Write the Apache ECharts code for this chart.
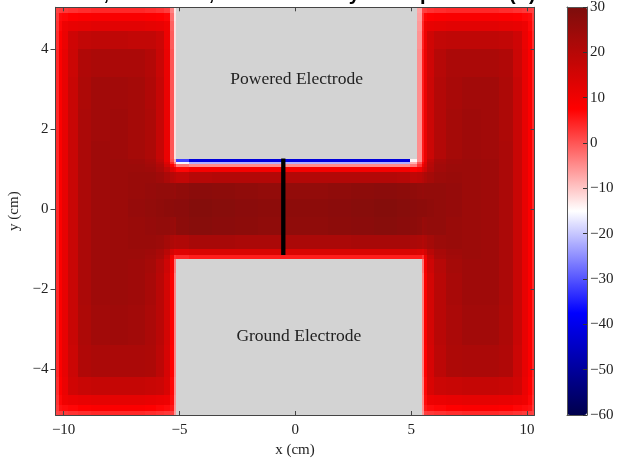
<!DOCTYPE html>
<html>
<head>
<meta charset="utf-8">
<script src="https://cdn.jsdelivr.net/npm/echarts@6/dist/echarts.min.js"></script>
<style>html,body{margin:0;padding:0;background:#fff}#c{width:618px;height:459px}</style>
</head>
<body>
<div id="c"></div>
<script>
const N = null;
// cell edges (cm)
const xEdges = [-10.35,-10.22,-10.05,-9.8,-9.4,-8.8,-8.0,-7.2,-6.5,-6.0,-5.65,-5.4,-5.25,-5.15,
  -4.6,-3.6,-2.6,-1.6,-0.6,0.4,1.4,2.4,3.4,4.4,4.95,5.26,5.45,
  5.55,5.7,6.0,6.5,7.2,8.0,8.8,9.4,9.8,10.05,10.2,10.32];
const yEdges = [-5.14,-5.04,-4.9,-4.65,-4.2,-3.4,-2.4,-1.6,-1.24,-1.14,-0.98,-0.65,-0.2,0.25,0.66,0.94,1.06,1.14,1.19,1.26,
  1.7,2.5,3.3,4.0,4.45,4.72,4.92,5.05];
// potential (V), rows from bottom to top, 38 columns each
const potential = [
 [1.5,2,2.5,3,3.5,4,4,4,3.5,3,2.5,2,-6, N,N,N,N,N,N,N,N,N,N,N,N,N, -6,2,2.5,3,3.5,4,4,3.5,3,2.5,2,1.5],
 [2.5,6,6.5,7,7.5,8,8,8,7.5,7,6.5,5.5,-5.5, N,N,N,N,N,N,N,N,N,N,N,N,N, -5.5,5.5,6.5,7,7.5,8,8,7.5,7,6.5,6,2.5],
 [3,7,10,11,11.5,12,12,12,11.5,11,10.5,6.5,-5, N,N,N,N,N,N,N,N,N,N,N,N,N, -5,6.5,10.5,11,11.5,12,12,11.5,11,10,7,3],
 [3.5,7.5,11,15.5,17,17.5,17.5,17.5,17,16.5,14,7,-4.5, N,N,N,N,N,N,N,N,N,N,N,N,N, -4.5,7,14,16.5,17,17.5,17.5,17,15.5,11,7.5,3.5],
 [4,8,11.5,16.5,21,22,22,22,21.5,19,14.5,7.5,-4, N,N,N,N,N,N,N,N,N,N,N,N,N, -4,7.5,14.5,19,21.5,22,22,21,16.5,11.5,8,4],
 [4,8,11.5,17,21.5,23.5,24,23.5,22,19.5,15,8,-4, N,N,N,N,N,N,N,N,N,N,N,N,N, -4,8,15,19.5,22,23.5,23.5,21.5,17,11.5,8,4],
 [4,8,11.5,17,22,24,24.5,24,22.5,19.5,15,8,-4, N,N,N,N,N,N,N,N,N,N,N,N,N, -4,8,15,19.5,22.5,24,24,22,17,11.5,8,4],
 [4,8,11.5,17,22,24,24.5,24,23,20,16,9,-3, N,N,N,N,N,N,N,N,N,N,N,N,N, -3,9,16,20,23,24,24,22,17,11.5,8,4],
 [4,8,11.5,17,22,24,24.5,24.5,23.5,22,17.5,10,3, 4,5,5,5,5,5,5,5,5,5,5,5,5, 3,10,17.5,22,23.5,24.5,24,22,17,11.5,8,4],
 [4,8,11.5,17,22,24,24.5,24.5,24,22.5,19.5,15,12.5, 13,14,14,14,14,14,14,14,14,14,14,14,13.5, 12.5,15,19.5,22.5,24,24.5,24,22,17,11.5,8,4],
 [4,8,11.5,17,22,24,24.5,25,25,24.5,23,21.5,20.5, 21,22.5,22.5,22,22,22,22,22,22.5,22.5,22.5,22,21.5, 20.5,21.5,23,24.5,25,24.5,24,22,17,11.5,8,4],
 [4,8,11.5,17,22,24,24.5,25,25.5,26,26,25.5,25, 27,28,27.5,27,26.5,26.5,26.5,27,27.5,28,27.5,27,26.5, 25,25.5,26,26,25,24.5,24,22,17,11.5,8,4],
 [4,8,11.5,17,22,24,24.5,25.5,26,26.5,27,27,27.5, 27.5,28.5,28,27.5,27,27,27,27.5,28,28.5,28,27.5,27, 27,27,26.5,26,25.5,24.5,24,22,17,11.5,8,4],
 [4,8,11.5,17,22,24,24.5,25,25.5,26,26,26,25.5, 26.5,27.5,27,26.5,26,26,26,26.5,27,27.5,27,26.5,26, 25.5,26,26,26,25.5,24.5,24,22,17,11.5,8,4],
 [4,8,11.5,17,22,24,24.5,25,25,24,22,20,19, 18,20,20.5,20.5,20.5,20.5,20.5,20.5,20.5,20.5,20,18.5,19, 20,21.5,23,24.5,25,24.5,24,22,17,11.5,8,4],
 [4,8,11.5,17,22,24,24.5,24.5,24,22,18,13,11, 7,9,9,9,9,9,9,9,9,9,9,7.5,9, 13.5,16,20.5,23.5,24.5,24.5,24,22,17,11.5,8,4],
 [4,8,11.5,17,22,24,24.5,24.5,23.5,21,15,8,4, -3,-5,-5,-5,-5,-5,-5,-5,-5,-5,-5,-3,3, 10,14,20,23.5,24.5,24.5,24,22,17,11.5,8,4],
 [4,8,11.5,17,22,24,24.5,24,23,20,13,4,-4, -16,-22,-22,-22,-22,-22,-22,-22,-22,-22,-22,-8,0, 7,13,19.5,23,24,24.5,24,22,17,11.5,8,4],
 [4,8,11.5,17,22,24,24.5,24,22.5,18.5,11,1,-8, -32,-42,-42,-42,-42,-42,-42,-42,-42,-42,-42,-14,-5, 5,11,18.5,22.5,24,24.5,24,22,17,11.5,8,4],
 [4,8,11.5,17,22,24,24,23,21.5,17.5,11,0,-12, N,N,N,N,N,N,N,N,N,N,N,N, -5,5,11,16.5,20.5,23,24,23.5,22,17,11.5,8,4],
 [4,8,11.5,17,22,23.5,24,23,21.5,17.5,11,0,-12, N,N,N,N,N,N,N,N,N,N,N,N, -5,5,11,16.5,20.5,23,24,23.5,21.5,17,11.5,8,4],
 [4,8,11.5,17,21.5,23.5,23.5,23,21,17.5,11,0,-12, N,N,N,N,N,N,N,N,N,N,N,N, -5,5,11,16.5,20.5,22.5,23.5,23.5,21.5,17,11.5,8,4],
 [4,8,11.5,16.5,21,22,22,22,20.5,17,11,0,-12, N,N,N,N,N,N,N,N,N,N,N,N, -5,5,11,16,20,22,22,22,21,16.5,11.5,8,4],
 [3.5,7.5,11,16,18,18.5,18.5,18,18,16.5,10.5,-0.5,-12, N,N,N,N,N,N,N,N,N,N,N,N, -5.5,4.5,10.5,15.5,18,18.5,18.5,18.5,18,16,11,7.5,3.5],
 [3,7,10.5,11.5,12,12.5,12.5,12.5,12,11.5,10,-1,-12, N,N,N,N,N,N,N,N,N,N,N,N, -6,4,10,11.5,12,12.5,12.5,12.5,12,11.5,10.5,7,3],
 [2.5,6.5,7,7.5,8,8.5,8.5,8.5,8,7.5,7,-2,-12.5, N,N,N,N,N,N,N,N,N,N,N,N, -6.5,3,7,7.5,8,8.5,8.5,8.5,8,7.5,7,6.5,2.5],
 [1.5,2,2.5,3,3.5,4,4,4,3.5,3,2,-4,-13, N,N,N,N,N,N,N,N,N,N,N,N, -7,1.5,2,3,3.5,4,4,4,3.5,3,2.5,2,1.5]
];
// electrodes
const electrodeNames = ['Powered Electrode', 'Ground Electrode'];
const electrodeX = [[-5.15, 5.26], [-5.15, 5.45]];
const electrodeY = [[1.26, 5.05], [-5.14, -1.24]];
const electrodeLabelY = [3.26, -3.17];
// probe line
const probeX = [-0.52, -0.52];
const probeY = [1.27, -1.14];
// ticks
const xTicks = [-10, -5, 0, 5, 10];
const yTicks = [-4, -2, 0, 2, 4];
const cbarMin = -60, cbarMax = 30, cbarStep = 10;

const cells = [];
potential.forEach((row, r) => {
  row.forEach((v, c) => {
    if (v === null || v === undefined) return;
    cells.push([xEdges[c], xEdges[c + 1], yEdges[r], yEdges[r + 1], v]);
  });
});
const elecData = electrodeNames.map((n, i) => [electrodeX[i][0], electrodeX[i][1], electrodeY[i][0], electrodeY[i][1], electrodeLabelY[i]]);

const serif = 'Liberation Serif';
const minus = v => String(v).replace('-', '\u2212');
const axisCol = '#444';
const line = {onZero: false, lineStyle: {color: axisCol, width: 1}};

const chart = echarts.init(document.getElementById('c'), null, {renderer: 'canvas'});
chart.setOption({
  animation: false,
  backgroundColor: '#fff',
  title: {
    text: 'Ar, 100 mTorr, 300 V \u2013 Steady State potential (V)',
    left: 'center', top: -21,
    textStyle: {fontFamily: 'Liberation Sans', fontWeight: 'bold', fontSize: 20, color: '#000'}
  },
  grid: [
    {left: 55.5, top: 7.3, width: 479, height: 407.7, outerBoundsMode: 'none', containLabel: false},
    {left: 567, top: 7, width: 20, height: 408, outerBoundsMode: 'none', containLabel: false}
  ],
  visualMap: {
    type: 'continuous', min: cbarMin, max: cbarMax, dimension: 4, seriesIndex: 0,
    orient: 'vertical', left: 567, top: 7, itemWidth: 20, itemHeight: 408,
    calculable: false, padding: 0, hoverLink: false, text: null,
    inRange: {color: ['#00004c', '#0000ff', '#ffffff', '#ff0000', '#7c0e0c']}
  },
  xAxis: [
    {gridIndex: 0, type: 'value', min: -10.35, max: 10.32, position: 'bottom', z: 10,
     splitLine: {show: false}, axisLine: line,
     axisTick: {inside: true, length: 4, customValues: xTicks, lineStyle: {color: axisCol}},
     axisLabel: {customValues: xTicks, formatter: minus, fontFamily: serif, fontSize: 15, color: '#222', margin: 8},
     name: 'x (cm)', nameLocation: 'middle', nameGap: 27,
     nameTextStyle: {fontFamily: serif, fontSize: 15, color: '#222'}},
    {gridIndex: 0, type: 'value', min: -10.35, max: 10.32, position: 'top', z: 10,
     splitLine: {show: false}, axisLine: line,
     axisTick: {inside: true, length: 4, customValues: xTicks, lineStyle: {color: axisCol}},
     axisLabel: {show: false}},
    {gridIndex: 1, type: 'value', min: 0, max: 1, position: 'bottom', z: 10,
     splitLine: {show: false}, axisLine: {onZero: false, lineStyle: {color: '#555'}}, axisTick: {show: false}, axisLabel: {show: false}},
    {gridIndex: 1, type: 'value', min: 0, max: 1, position: 'top', z: 10,
     splitLine: {show: false}, axisLine: {onZero: false, lineStyle: {color: '#555'}}, axisTick: {show: false}, axisLabel: {show: false}}
  ],
  yAxis: [
    {gridIndex: 0, type: 'value', min: -5.14, max: 5.05, position: 'left', z: 10,
     splitLine: {show: false}, axisLine: line,
     axisTick: {inside: false, length: 5, customValues: yTicks, lineStyle: {color: axisCol}},
     axisLabel: {customValues: yTicks, formatter: minus, fontFamily: serif, fontSize: 15, color: '#222', margin: 7},
     name: 'y (cm)', nameLocation: 'middle', nameGap: 25,
     nameTextStyle: {fontFamily: serif, fontSize: 15, color: '#222'}},
    {gridIndex: 0, type: 'value', min: -5.14, max: 5.05, position: 'right', z: 10,
     splitLine: {show: false}, axisLine: line,
     axisTick: {inside: true, length: 4, customValues: yTicks, lineStyle: {color: axisCol}},
     axisLabel: {show: false}},
    {gridIndex: 1, type: 'value', min: cbarMin, max: cbarMax, interval: cbarStep, position: 'right', z: 10,
     splitLine: {show: false},
     axisLine: {onZero: false, lineStyle: {color: '#555'}},
     axisTick: {inside: true, length: 4, lineStyle: {color: '#333'}},
     axisLabel: {formatter: minus, fontFamily: serif, fontSize: 15, color: '#222', margin: 3}},
    {gridIndex: 1, type: 'value', min: cbarMin, max: cbarMax, interval: cbarStep, position: 'left', z: 10,
     splitLine: {show: false}, axisLine: {onZero: false, lineStyle: {color: '#555'}}, axisTick: {show: false}, axisLabel: {show: false}}
  ],
  series: [
    {
      type: 'custom', xAxisIndex: 0, yAxisIndex: 0, clip: true, silent: true,
      encode: {x: [0, 1], y: [2, 3]},
      data: cells,
      renderItem: (params, api) => {
        const p0 = api.coord([api.value(0), api.value(3)]);
        const p1 = api.coord([api.value(1), api.value(2)]);
        const x0 = Math.round(p0[0]), y0 = Math.round(p0[1]);
        const x1 = Math.round(p1[0]), y1 = Math.round(p1[1]);
        return {type: 'rect', shape: {x: x0, y: y0, width: x1 - x0, height: y1 - y0},
                style: {fill: api.visual('color'), stroke: null}};
      }
    },
    {
      type: 'custom', xAxisIndex: 0, yAxisIndex: 0, clip: true, silent: true, z: 3,
      encode: {x: [0, 1], y: [2, 3]},
      data: elecData,
      renderItem: (params, api) => {
        const p0 = api.coord([api.value(0), api.value(3)]);
        const p1 = api.coord([api.value(1), api.value(2)]);
        const pl = api.coord([(api.value(0) + api.value(1)) / 2, api.value(4)]);
        return {type: 'group', children: [
          {type: 'rect', shape: {x: Math.round(p0[0]), y: Math.round(p0[1]), width: Math.round(p1[0]) - Math.round(p0[0]), height: Math.round(p1[1]) - Math.round(p0[1])}, style: {fill: '#d3d3d3'}},
          {type: 'text', x: pl[0], y: pl[1], style: {text: electrodeNames[params.dataIndex], fill: '#222',
            font: '17.5px "Liberation Serif"', align: 'center', verticalAlign: 'middle'}}
        ]};
      }
    },
    {
      type: 'line', xAxisIndex: 0, yAxisIndex: 0, z: 5, symbol: 'none', silent: true,
      data: probeX.map((x, i) => [x, probeY[i]]),
      lineStyle: {color: '#000', width: 4.3}
    }
  ]
});
</script>
</body>
</html>
